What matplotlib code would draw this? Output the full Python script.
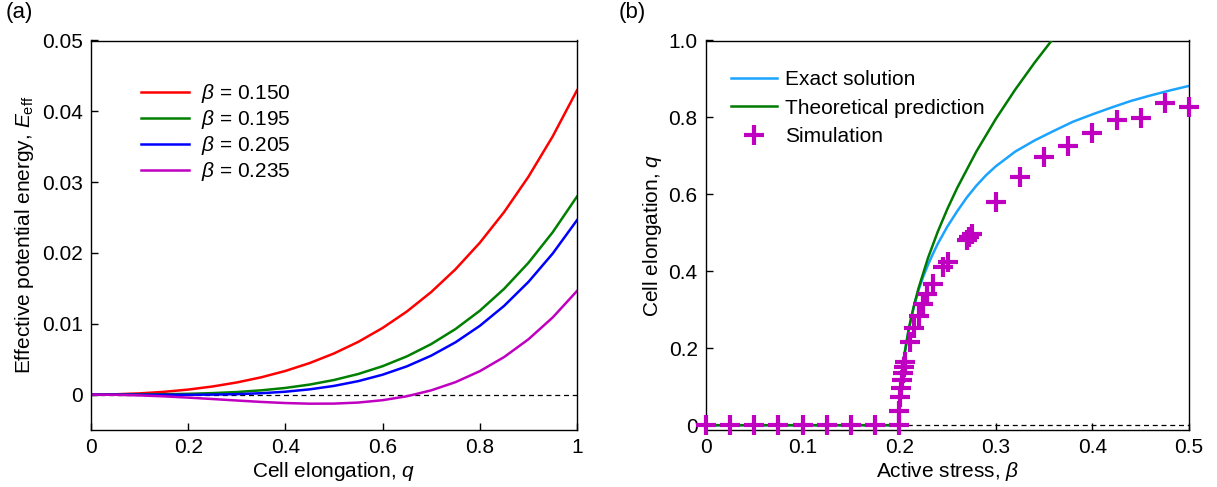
import numpy as np
import matplotlib.pyplot as plt

plt.rcParams['font.family'] = ['Liberation Sans', 'DejaVu Sans']
plt.rcParams['mathtext.fontset'] = 'custom'
plt.rcParams['mathtext.rm'] = 'Liberation Sans'
plt.rcParams['mathtext.it'] = 'Liberation Sans:italic'
plt.rcParams['mathtext.bf'] = 'Liberation Sans:bold'

# ---- (a) effective potential energy vs cell elongation ----
q = [0.00, 0.05, 0.10, 0.15, 0.20, 0.25, 0.30, 0.35, 0.40, 0.45, 0.50,
     0.55, 0.60, 0.65, 0.70, 0.75, 0.80, 0.85, 0.90, 0.95, 1.00]
E_150 = [0.0, 0.000042, 0.000169, 0.000388, 0.000709, 0.001144, 0.001713,
         0.002436, 0.003340, 0.004454, 0.005810, 0.007448, 0.009409,
         0.011736, 0.014481, 0.017697, 0.021439, 0.025770, 0.030755,
         0.036463, 0.042967]
E_195 = [0.0, 0.000004, 0.000019, 0.000051, 0.000109, 0.000207, 0.000363,
         0.000599, 0.000940, 0.001416, 0.002060, 0.002911, 0.004009,
         0.005399, 0.007131, 0.009259, 0.011839, 0.014933, 0.018605,
         0.022926, 0.027967]
E_205 = [0.0, -0.000004, -0.000014, -0.000024, -0.000025, -0.000002,
         0.000063, 0.000191, 0.000407, 0.000741, 0.001227, 0.001902,
         0.002809, 0.003991, 0.005498, 0.007384, 0.009706, 0.012525,
         0.015905, 0.019917, 0.024633]
E_235 = [0.0, -0.000029, -0.000114, -0.000249, -0.000425, -0.000626,
         -0.000837, -0.001035, -0.001193, -0.001284, -0.001273, -0.001123,
         -0.000792, -0.000235, 0.000598, 0.001759, 0.003306, 0.005300,
         0.007805, 0.010892, 0.014633]
labels_a = [r'$\beta$ = 0.150', r'$\beta$ = 0.195', r'$\beta$ = 0.205', r'$\beta$ = 0.235']
colors_a = ['#ff0000', '#008000', '#0000ff', '#c000c0']

# ---- (b) cell elongation vs active stress ----
beta_theory = [0.0, 0.200, 0.201, 0.202, 0.205, 0.210, 0.215, 0.220, 0.230,
               0.240, 0.250, 0.260, 0.280, 0.300, 0.320, 0.340, 0.360]
q_theory = [0.0, 0.0, 0.0796, 0.1126, 0.1780, 0.2517, 0.3083, 0.3560, 0.4360,
            0.5035, 0.5629, 0.6166, 0.7120, 0.7961, 0.8720, 0.9419, 1.0069]

beta_exact = [0.0, 0.200, 0.201, 0.202, 0.205, 0.210, 0.215, 0.220, 0.225,
              0.230, 0.235, 0.240, 0.250, 0.260, 0.270, 0.280, 0.290, 0.300,
              0.320, 0.340, 0.360, 0.380, 0.400, 0.420, 0.440, 0.460, 0.480,
              0.500]
q_exact = [0.0, 0.0, 0.0795, 0.1125, 0.178, 0.251, 0.306, 0.351, 0.387,
           0.418, 0.446, 0.472, 0.517, 0.556, 0.592, 0.623, 0.650, 0.673,
           0.711, 0.740, 0.765, 0.789, 0.808, 0.826, 0.843, 0.857, 0.870,
           0.882]

beta_sim = [0.0, 0.025, 0.05, 0.075, 0.1, 0.125, 0.15, 0.175, 0.2,
            0.2002, 0.2012, 0.2020, 0.2030, 0.2040, 0.2054, 0.2061, 0.2109,
            0.2158, 0.2202, 0.2245, 0.229, 0.2355, 0.2455, 0.250, 0.270,
            0.272, 0.275, 0.300, 0.325, 0.350, 0.375, 0.400, 0.425, 0.450,
            0.475, 0.500]
q_sim = [0, 0, 0, 0, 0, 0, 0, 0, 0,
         0.037, 0.074, 0.097, 0.118, 0.135, 0.150, 0.163, 0.215,
         0.253, 0.285, 0.315, 0.342, 0.368, 0.410, 0.425, 0.482,
         0.490, 0.498, 0.579, 0.646, 0.698, 0.727, 0.760, 0.793, 0.798,
         0.837, 0.826]

fig = plt.figure(figsize=(12.17, 4.87), dpi=100)
ax1 = fig.add_axes([91/1217, 57/487, 486/1217, 389.5/487])
ax2 = fig.add_axes([706/1217, 57/487, 483/1217, 389.5/487])

fs = 15

ax1.axhline(0, color='black', lw=0.9, ls=(0, (4, 3)), zorder=1)
for E, lab, c in zip([E_150, E_195, E_205, E_235], labels_a, colors_a):
    ax1.plot(q, E, color=c, lw=1.8, label=lab, zorder=2)
ax1.set_xlim(0, 1)
ax1.set_ylim(-0.005, 0.05)
ax1.set_xticks([0, 0.2, 0.4, 0.6, 0.8, 1])
ax1.set_xticklabels(['0', '0.2', '0.4', '0.6', '0.8', '1'])
ax1.set_yticks([0, 0.01, 0.02, 0.03, 0.04, 0.05])
ax1.set_yticklabels(['0', '0.01', '0.02', '0.03', '0.04', '0.05'])
ax1.set_xlabel(r'Cell elongation, $q$', fontsize=fs, labelpad=2)
ax1.set_ylabel(r'Effective potential energy, $E_{\rm eff}$', fontsize=fs, labelpad=4)
ax1.legend(loc='upper left', bbox_to_anchor=(0.085, 0.915), frameon=False,
           fontsize=fs, handlelength=2.3, handletextpad=0.6, labelspacing=0.15,
           borderaxespad=0)

ax2.axhline(0, color='black', lw=0.9, ls=(0, (4, 3)), zorder=1)
ax2.plot(beta_exact, q_exact, color='#1aa3ff', lw=1.8, label='Exact solution', zorder=2)
ax2.plot(beta_theory, q_theory, color='#007a00', lw=1.8, label='Theoretical prediction', zorder=3)
ax2.plot(beta_sim, q_sim, ls='none', marker='+', ms=14, mew=3, color='#c000c0',
         label='Simulation', zorder=4, clip_on=False)
ax2.set_xlim(0, 0.5)
ax2.set_ylim(-0.0125, 1.0)
ax2.set_xticks([0, 0.1, 0.2, 0.3, 0.4, 0.5])
ax2.set_xticklabels(['0', '0.1', '0.2', '0.3', '0.4', '0.5'])
ax2.set_yticks([0, 0.2, 0.4, 0.6, 0.8, 1.0])
ax2.set_yticklabels(['0', '0.2', '0.4', '0.6', '0.8', '1.0'])
ax2.set_xlabel(r'Active stress, $\beta$', fontsize=fs, labelpad=2)
ax2.set_ylabel(r'Cell elongation, $q$', fontsize=fs, labelpad=3)
ax2.legend(loc='upper left', bbox_to_anchor=(0.035, 0.945), frameon=False,
           fontsize=fs, handlelength=2.2, handletextpad=0.4, labelspacing=0.45,
           borderaxespad=0)

for ax in (ax1, ax2):
    ax.tick_params(direction='in', length=5, width=1, labelsize=fs, pad=6,
                   top=False, right=False)
    for s in ax.spines.values():
        s.set_linewidth(1.0)

fig.text(6/1217, 1 - 2/487, '(a)', fontsize=16, va='top', ha='left')
fig.text(619/1217, 1 - 2/487, '(b)', fontsize=16, va='top', ha='left')

fig.savefig('out.png', dpi=100)
